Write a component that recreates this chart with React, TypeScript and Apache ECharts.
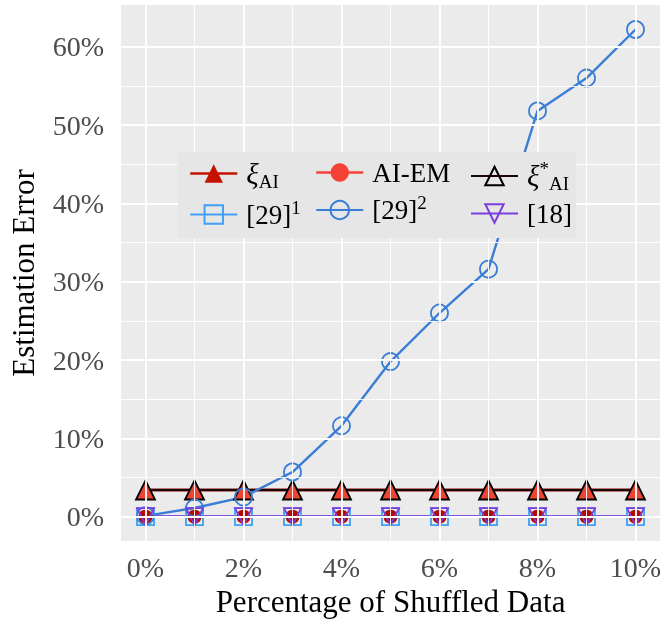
import React, { useEffect, useRef } from "react";
import * as echarts from "echarts";

const FONT = "Liberation Serif";

const xValues = [0, 1, 2, 3, 4, 5, 6, 7, 8, 9, 10];
const xiAI = [3.4, 3.4, 3.4, 3.4, 3.4, 3.4, 3.4, 3.4, 3.4, 3.4, 3.4];
const aiEM = [0, 0, 0, 0, 0, 0, 0, 0, 0, 0, 0];
const xiAIStar = [3.4, 3.4, 3.4, 3.4, 3.4, 3.4, 3.4, 3.4, 3.4, 3.4, 3.4];
const ref29a = [0, 0, 0, 0, 0, 0, 0, 0, 0, 0, 0];
const ref29b = [0.1, 1.1, 2.5, 5.7, 11.6, 19.8, 26.0, 31.6, 51.8, 56.0, 62.2];
const ref18 = [0, 0, 0, 0, 0, 0, 0, 0, 0, 0, 0];

const xTicks = [0, 2, 4, 6, 8, 10];
const xMinor = [1, 3, 5, 7, 9];
const yTicks = [0, 10, 20, 30, 40, 50, 60];
const yMinor = [5, 15, 25, 35, 45, 55];

const labelRich: Record<string, string> = {
  "ξAI": "{g|ξ}{sub|AI}",
  "AI-EM": "{n|AI-EM}",
  "ξ*AI": "{g|ξ}{sup|*}{sub|AI}",
  "[29]1": "{n|[29]}{sup|1}",
  "[29]2": "{n|[29]}{sup|2}",
  "[18]": "{n|[18]}",
};

export default function App() {
  const ref = useRef<HTMLDivElement>(null);
  useEffect(() => {
    if (!ref.current) return;
    const chart = echarts.init(ref.current, undefined, { renderer: "svg" });
    const pair = (arr: number[]) => arr.map((v, i) => [xValues[i], v]);

    const legendText = {
      fontFamily: FONT,
      fontSize: 27,
      color: "#000",
      padding: [0, 0, 0, 4],
      rich: {
        g: { fontFamily: FONT, fontSize: 29, fontStyle: "italic", lineHeight: 34, verticalAlign: "middle", color: "#000" },
        n: { fontFamily: FONT, fontSize: 27, lineHeight: 34, verticalAlign: "middle", color: "#000" },
        sub: { fontFamily: FONT, fontSize: 19, lineHeight: 20, verticalAlign: "bottom", color: "#000" },
        sup: { fontFamily: FONT, fontSize: 19, lineHeight: 20, verticalAlign: "top", color: "#000" },
      },
    };
    const legendBase = {
      orient: "vertical",
      top: 154,
      z: 20,
      itemGap: 7,
      itemWidth: 47,
      itemHeight: 23,
      textStyle: legendText,
      formatter: (name: string) => labelRich[name] || name,
      selectedMode: false,
    };

    const option: any = {
      animation: false,
      grid: {
        left: 121,
        top: 5,
        right: 7,
        bottom: 86,
        show: true,
        backgroundColor: "#EBEBEB",
        borderWidth: 0,
      },
      xAxis: {
        type: "value",
        min: -0.5,
        max: 10.5,
        name: "Percentage of Shuffled Data",
        nameLocation: "middle",
        nameGap: 39,
        nameTextStyle: { fontFamily: FONT, fontSize: 31, color: "#000" },
        axisLine: { show: false },
        axisTick: { show: true, length: 6, customValues: xTicks, lineStyle: { color: "#333", width: 1.5 } },
        axisLabel: {
          customValues: xTicks,
          formatter: (v: number) => `${v}%`,
          fontFamily: FONT,
          fontSize: 28,
          color: "#4D4D4D",
          margin: 12,
        },
        splitLine: { show: false },
      },
      yAxis: {
        type: "value",
        min: -3.11,
        max: 65.33,
        name: "Estimation Error",
        nameLocation: "middle",
        nameGap: 82,
        nameTextStyle: { fontFamily: FONT, fontSize: 31, color: "#000" },
        axisLine: { show: false },
        axisTick: { show: true, length: 6, customValues: yTicks, lineStyle: { color: "#333", width: 1.5 } },
        axisLabel: {
          customValues: yTicks,
          formatter: (v: number) => `${v}%`,
          fontFamily: FONT,
          fontSize: 28,
          color: "#4D4D4D",
          margin: 17,
        },
        splitLine: { show: false },
      },
      legend: [
        {
          ...legendBase,
          left: 184,
          data: [
            { name: "ξAI", itemStyle: { color: "#C41200", borderWidth: 0 }, lineStyle: { color: "#C41200", width: 2.5 } },
            { name: "[29]1" },
          ],
        },
        {
          ...legendBase,
          left: 310,
          data: [
            { name: "AI-EM", itemStyle: { color: "#F44336", borderWidth: 0 }, lineStyle: { color: "#F44336", width: 2.5 } },
            { name: "[29]2" },
          ],
        },
        {
          ...legendBase,
          left: 465,
          data: [{ name: "ξ*AI" }, { name: "[18]" }],
        },
      ],
      graphic: {
        elements: [
          { type: "rect", z: 10, zlevel: 0, shape: { x: 178, y: 152, width: 398, height: 86 }, style: { fill: "#E6E6E6" } },
        ],
      },
      series: [
        {
          type: "line",
          name: "grid",
          z: 1,
          data: [],
          silent: true,
          markLine: {
            silent: true,
            symbol: ["none", "none"],
            label: { show: false },
            animation: false,
            data: [
              ...xMinor.map((v) => ({ xAxis: v, lineStyle: { color: "#FFFFFF", width: 0.9, type: "solid" } })),
              ...yMinor.map((v) => ({ yAxis: v, lineStyle: { color: "#FFFFFF", width: 0.9, type: "solid" } })),
              ...xTicks.map((v) => ({ xAxis: v, lineStyle: { color: "#FFFFFF", width: 1.8, type: "solid" } })),
              ...yTicks.map((v) => ({ yAxis: v, lineStyle: { color: "#FFFFFF", width: 1.8, type: "solid" } })),
            ],
          },
        },
        {
          type: "line",
          name: "ξAI",
          data: pair(xiAI),
          symbol: "triangle",
          symbolSize: 19,
          lineStyle: { color: "#8B0A00", width: 2.8 },
          itemStyle: { color: "#EE4433", borderWidth: 0 },
        },
        {
          type: "line",
          name: "AI-EM",
          data: pair(aiEM),
          symbol: "circle",
          symbolSize: 14,
          lineStyle: { color: "#F44336", width: 2.5 },
          itemStyle: { color: "#B30A00", borderWidth: 0 },
        },
        {
          type: "line",
          name: "ξ*AI",
          data: pair(xiAIStar),
          symbol: "triangle",
          symbolSize: 19,
          lineStyle: { color: "#1A0505", width: 2.2 },
          itemStyle: { color: "rgba(0,0,0,0)", borderColor: "#000", borderWidth: 1.8 },
        },
        {
          type: "line",
          name: "[29]1",
          data: pair(ref29a),
          symbol: "rect",
          symbolSize: 17,
          lineStyle: { color: "#3FA0F5", width: 2.5 },
          itemStyle: { color: "rgba(0,0,0,0)", borderColor: "#3FA0F5", borderWidth: 1.8 },
        },
        {
          type: "line",
          name: "[29]2",
          data: pair(ref29b),
          symbol: "circle",
          symbolSize: 17,
          lineStyle: { color: "#3A7DD6", width: 2.4 },
          itemStyle: { color: "rgba(0,0,0,0)", borderColor: "#3A7DD6", borderWidth: 1.8 },
        },
        {
          type: "line",
          name: "[18]",
          data: pair(ref18),
          symbol: "triangle",
          symbolRotate: 180,
          symbolSize: 17,
          lineStyle: { color: "#7B3FE0", width: 2.8 },
          itemStyle: { color: "rgba(0,0,0,0)", borderColor: "#7B3FE0", borderWidth: 1.8 },
        },
      ],
    };
    chart.setOption(option);
    return () => chart.dispose();
  }, []);
  return (
    <div
      ref={ref}
      style={{ position: "fixed", left: 0, top: 0, width: 667, height: 627 }}
    />
  );
}
